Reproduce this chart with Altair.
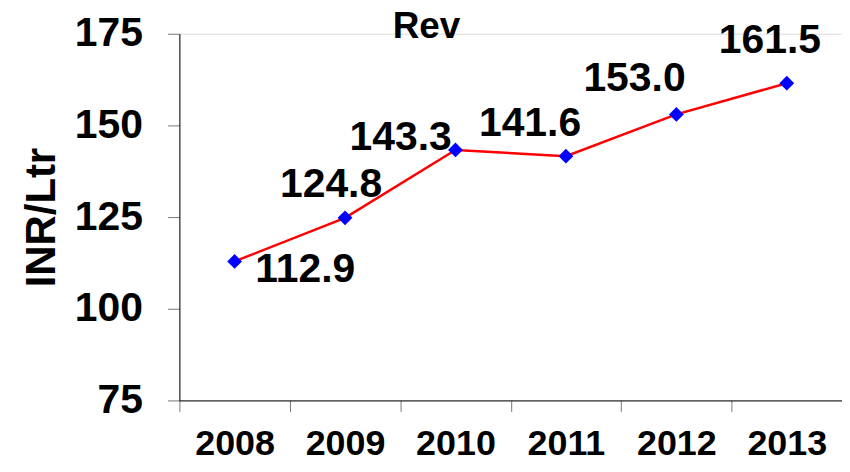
import altair as alt
import pandas as pd

years = ["2008", "2009", "2010", "2011", "2012", "2013"]
values = [112.9, 124.8, 143.3, 141.6, 153.0, 161.5]
labels = ["112.9", "124.8", "143.3", "141.6", "153.0", "161.5"]
y_ticks = [75, 100, 125, 150, 175]
title_text = "Rev"

df = pd.DataFrame({"year": years, "value": values, "label": labels})

FONT = "Liberation Sans"

x_enc = alt.X(
    "year:N",
    scale=alt.Scale(type="band", paddingInner=0, paddingOuter=0),
    axis=alt.Axis(
        title=None, labelAngle=0, tickBand="extent", tickSize=11,
        tickColor="#777777", domainColor="black", labelFontSize=36,
        labelFont=FONT, labelFontWeight="bold",
        labelColor="black", labelPadding=15, grid=False,
    ),
)
y_enc = alt.Y(
    "value:Q",
    scale=alt.Scale(domain=[75, 175], nice=False, zero=False),
    axis=alt.Axis(
        values=y_ticks, title="INR/Ltr", titleFont=FONT, titleFontSize=42,
        titleFontWeight="bold", titleColor="black", titleAngle=-90,
        titleX=-138, titleY=184, titleAlign="center", titleBaseline="middle",
        labelFont=FONT, labelFontSize=41, labelFontWeight="bold",
        labelColor="black", labelPadding=25, tickSize=12,
        tickColor="#777777", domainColor="black", grid=False,
    ),
)

base = alt.Chart(df).encode(x=x_enc, y=y_enc)

line = base.mark_line(color="#ff0000", strokeWidth=2.5)
pts = base.mark_point(shape="diamond", filled=True, color="#0000ff", size=220, opacity=1)

offsets = {
    "2008": (71, 21),
    "2009": (-14, -21),
    "2010": (-55, 0),
    "2011": (-36, -20),
    "2012": (-42, -23),
    "2013": (-17, -30),
}

text_layers = []
for yr in years:
    dx, dy = offsets[yr]
    text_layers.append(
        base.transform_filter(alt.datum.year == yr).mark_text(
            font=FONT, fontSize=41, fontWeight="bold", color="black",
            align="center", baseline="alphabetic", dx=dx, dy=dy,
        ).encode(text="label:N")
    )

title = alt.Chart(pd.DataFrame({"t": [title_text]})).mark_text(
    font=FONT, fontSize=37, fontWeight="bold", color="black",
    align="center", baseline="alphabetic",
).encode(x=alt.value(248), y=alt.value(4), text="t:N")

chart = alt.layer(line, pts, *text_layers, title).properties(
    width=665,
    height=368,
    autosize="none",
    padding={"left": 172, "top": 25, "right": 0, "bottom": 63},
).configure_view(stroke=None).configure(background="white")

chart.save("out.html", embed_options={"renderer": "svg", "actions": False})
